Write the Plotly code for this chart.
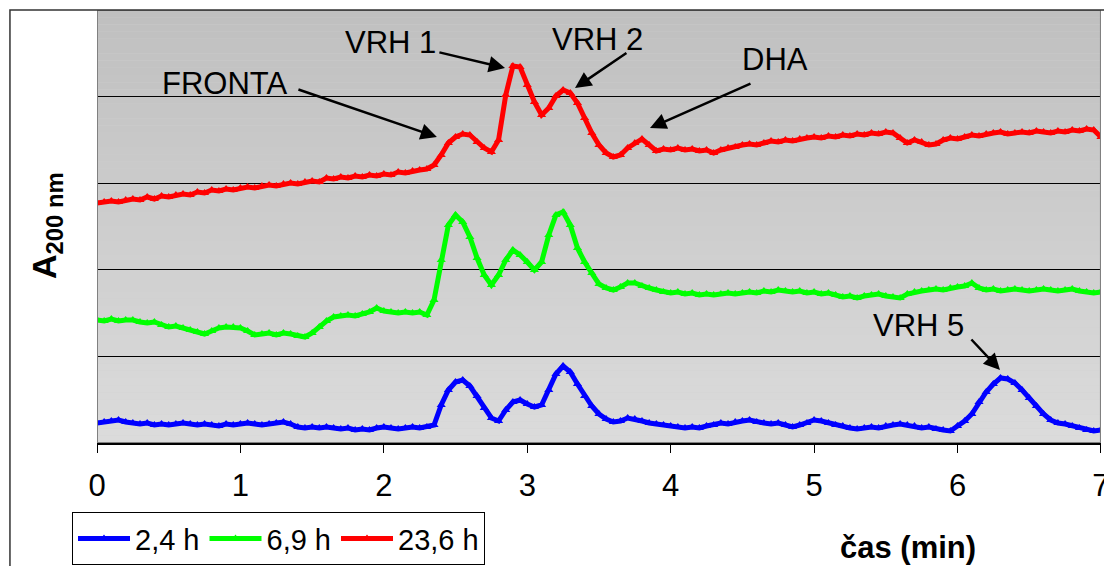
import numpy as np
import plotly.graph_objects as go

# Retention time axis (min), sampled every 0.05 min
time_min = np.round(np.arange(0, 7.0001, 0.05), 2)

# Absorbance at 200 nm (arbitrary units, traces offset vertically)
a_2_4h = [
    20, 21, 22, 23, 21, 20, 19, 20, 18, 19, 18, 19, 20, 19, 18, 19, 18, 17, 19, 18,
    19, 20, 19, 18, 19, 20, 21, 19, 16, 15, 16, 15, 16, 15, 14, 15, 13, 14, 13, 15,
    16, 15, 14, 15, 16, 15, 16, 18, 38, 53, 61, 63, 57, 47, 35, 25, 22, 33, 41, 43,
    39, 36, 38, 53, 69, 77, 71, 59, 47, 37, 29, 24, 21, 22, 25, 24, 22, 20, 19, 18,
    17, 16, 15, 16, 15, 17, 18, 20, 19, 21, 22, 23, 21, 20, 19, 20, 18, 16, 18, 20,
    23, 22, 20, 18, 17, 15, 14, 15, 16, 15, 17, 18, 19, 18, 17, 15, 16, 14, 13, 12,
    17, 22, 29, 41, 51, 59, 65, 64, 60, 53, 45, 37, 29, 23, 20, 19, 17, 15, 13, 12,
    13,
]
a_6_9h = [
    123, 122, 124, 122, 123, 123, 121, 120, 121, 118, 116, 117, 115, 113, 111, 109, 112, 115, 116, 116,
    115, 112, 108, 109, 110, 108, 110, 109, 107, 106, 110, 116, 122, 126, 127, 128, 127, 129, 131, 135,
    132, 131, 130, 131, 130, 131, 128, 143, 183, 218, 228, 221, 206, 185, 168, 158, 168, 183, 193, 188,
    181, 173, 181, 208, 228, 231, 218, 195, 181, 170, 159, 155, 153, 156, 160, 160, 157, 155, 153, 151,
    150, 151, 149, 150, 148, 149, 148, 149, 150, 149, 150, 151, 150, 152, 151, 153, 152, 151, 152, 150,
    151, 149, 150, 148, 146, 147, 145, 147, 148, 149, 147, 146, 145, 149, 151, 152, 153, 154, 153, 155,
    156, 157, 160, 155, 153, 154, 152, 153, 154, 153, 152, 153, 154, 153, 152, 153, 154, 152, 151, 150,
    151,
]
a_23_6h = [
    240, 241, 242, 241, 243, 244, 243, 246, 244, 247, 246, 248, 249, 248, 251, 250, 253, 252, 254, 253,
    255, 256, 255, 257, 258, 257, 259, 260, 259, 261, 262, 261, 265, 264, 266, 265, 267, 266, 268, 267,
    269, 268, 271, 270, 272, 273, 274, 278, 288, 300, 306, 309, 308, 301, 295, 291, 303, 348, 377, 376,
    358, 341, 328, 335, 347, 353, 350, 340, 325, 310, 298, 290, 286, 288, 295, 300, 304, 298, 292, 294,
    293, 295, 293, 294, 292, 293, 290, 293, 295, 296, 298, 299, 298, 300, 302, 301, 303, 302, 304, 305,
    306, 305, 307, 306, 308, 307, 309, 308, 310, 309, 311, 310, 305, 300, 303, 301, 298, 299, 303, 305,
    304, 306, 308, 307, 309, 310, 311, 309, 310, 311, 310, 312, 311, 310, 312, 311, 313, 312, 314, 313,
    306,
]

series_names = ["2,4 h", "6,9 h", "23,6 h"]
series_values = [a_2_4h, a_6_9h, a_23_6h]
series_colors = ["#0000FF", "#00FF00", "#FF0000"]
time_ticks = [0, 1, 2, 3, 4, 5, 6, 7]

# Peak labels: (text, text position, arrow tail, arrow tip) in data units
peak_labels = [
    ("FRONTA", (0.892, 360), (1.394, 354), (2.370, 306)),
    ("VRH 1", (2.043, 401), (2.377, 391), (2.845, 375)),
    ("VRH 2", (3.493, 404), (3.702, 391), (3.333, 355)),
    ("DHA", (4.727, 384), (4.567, 360), (3.856, 315)),
    ("VRH 5", (5.731, 118), (6.087, 105), (6.296, 73)),
]

Y_MAX = 433.0
GRID_STEP = Y_MAX / 5
FONT = "Liberation Sans, Arial, sans-serif"
FS = 31

fig = go.Figure()
for name, vals, col in zip(series_names, series_values, series_colors):
    fig.add_trace(go.Scatter(
        x=time_min, y=vals, name=name, mode="lines+markers",
        line=dict(color=col, width=5),
        marker=dict(symbol="triangle-up", size=8, color=col),
    ))

# Vertical grey gradient behind the plot
shapes = []
n_bands = 60
top_c, bot_c = np.array([192, 192, 192]), np.array([220, 220, 220])
for i in range(n_bands):
    f = (i + 0.5) / n_bands
    c = (top_c * (1 - f) + bot_c * f).astype(int)
    y1 = Y_MAX * (1 - i / n_bands)
    y0 = Y_MAX * (1 - (i + 1) / n_bands)
    shapes.append(dict(type="rect", xref="x", yref="y", x0=0, x1=7, y0=y0, y1=y1,
                       fillcolor=f"rgb({c[0]},{c[1]},{c[2]})", line=dict(width=0),
                       layer="below"))
# plot area frame
shapes.append(dict(type="rect", xref="x", yref="y", x0=0, x1=7, y0=0, y1=Y_MAX,
                   line=dict(color="#808080", width=2), layer="above"))
# outer chart frame
shapes.append(dict(type="rect", xref="paper", yref="paper", x0=-0.0867, x1=1.2,
                   y0=-0.5, y1=1.0, line=dict(color="#333333", width=1.5),
                   layer="above"))

annotations = []
for text, (tx, ty), (ax, ay), (hx, hy) in peak_labels:
    annotations.append(dict(x=tx, y=ty, xref="x", yref="y", text=text,
                            xanchor="center", yanchor="middle",
                            showarrow=False, font=dict(size=FS, color="black", family=FONT)))
    annotations.append(dict(x=hx, y=hy, xref="x", yref="y", ax=ax, ay=ay,
                            axref="x", ayref="y", text="", showarrow=True,
                            arrowhead=2, arrowsize=1.3, arrowwidth=2.5,
                            arrowcolor="black", standoff=0, startstandoff=0))

# x axis title
annotations.append(dict(x=(908 - 97) / 1004, y=(443 - 547) / 433, xref="paper", yref="paper",
                        xanchor="center", yanchor="middle", text="<b>čas (min)</b>",
                        showarrow=False, font=dict(size=31, color="black", family=FONT)))
# y axis title
annotations.append(dict(x=(47 - 97) / 1004, y=(443 - 226) / 433, xref="paper", yref="paper",
                        xanchor="center", yanchor="middle",
                        text="<b>A<sub>200 nm</sub></b>", textangle=-90,
                        showarrow=False, font=dict(size=34, color="black", family=FONT)))

fig.update_layout(
    width=1104, height=566,
    margin=dict(l=97, r=3, t=10, b=123, autoexpand=False),
    paper_bgcolor="white", plot_bgcolor="#d0d0d0",
    font=dict(family=FONT, size=FS, color="black"),
    showlegend=True,
    legend=dict(orientation="h", x=-0.0249, y=-0.282, xanchor="left", yanchor="bottom",
                bgcolor="white", bordercolor="black", borderwidth=1,
                font=dict(size=29, family=FONT), itemwidth=52, tracegroupgap=0),
    xaxis=dict(range=[0, 7.0005], tickmode="array", tickvals=time_ticks, ticks="outside",
               ticklen=8, tickcolor="black", showline=True, linecolor="black",
               linewidth=1.5, showgrid=False, zeroline=False, ticklabelstandoff=6,
               ticklabeloverflow="allow", automargin=False,
               tickfont=dict(size=FS, family=FONT)),
    yaxis=dict(range=[0, Y_MAX], tickmode="linear", tick0=0, dtick=GRID_STEP,
               showticklabels=False, ticks="", showgrid=True, gridcolor="black",
               gridwidth=1, zeroline=False, showline=False, automargin=False),
    shapes=shapes,
    annotations=annotations,
)

fig.write_html("out.html")
